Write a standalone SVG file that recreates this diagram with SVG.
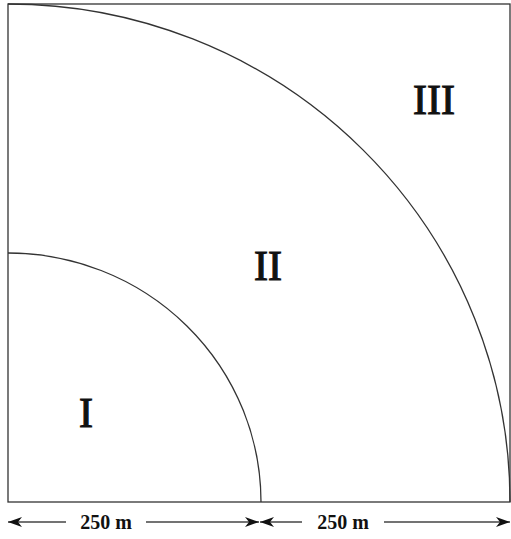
<svg xmlns="http://www.w3.org/2000/svg" width="511" height="539" viewBox="0 0 511 539">
<style>
.ln{fill:none;stroke:#333;stroke-width:1.3}
.dim{fill:none;stroke:#444;stroke-width:1.3}
.reg{font-family:"Liberation Serif",serif;font-size:42px;fill:#111;stroke:#111;stroke-width:1.2;text-anchor:middle}
.lbl{font-family:"Liberation Serif",serif;font-size:20px;font-weight:bold;fill:#111;text-anchor:middle}
</style>
<defs>
<marker id="ah" viewBox="0 0 14 10" refX="14" refY="5" markerWidth="14" markerHeight="10" markerUnits="userSpaceOnUse" orient="auto-start-reverse">
<path d="M0,0 L14,5 L0,10 L4,5 Z" fill="#111"/>
</marker>
</defs>
<g id="region-box"><rect class="ln" x="8" y="4" width="502" height="498"/></g>
<g id="arc-inner"><path class="ln" d="M8,253 A253,249 0 0 1 261,502"/></g>
<g id="arc-outer"><path class="ln" d="M8,4 A502,498 0 0 1 510,502"/></g>
<g id="label-I"><text class="reg" x="86" y="427">I</text></g>
<g id="label-II"><text class="reg" x="268" y="280">II</text></g>
<g id="label-III"><text class="reg" x="434" y="114">III</text></g>
<g id="connectors">
<path class="dim" d="M66,522 L8,522" marker-end="url(#ah)"/>
<path class="dim" d="M146,522 L259,522" marker-end="url(#ah)"/>
<path class="dim" d="M302,522 L260,522" marker-end="url(#ah)"/>
<path class="dim" d="M384,522 L510,522" marker-end="url(#ah)"/>
</g>
<g id="dim-1"><text class="lbl" x="106" y="529">250 m</text></g>
<g id="dim-2"><text class="lbl" x="343" y="529">250 m</text></g>
</svg>
